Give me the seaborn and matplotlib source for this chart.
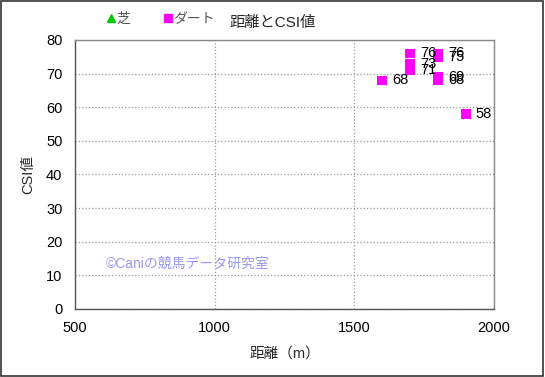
"""距離とCSI値 scatter (dart only)."""

import matplotlib

matplotlib.use("Agg")
import matplotlib.pyplot as plt
from matplotlib.lines import Line2D
from matplotlib.patches import Rectangle
import pandas as pd
import seaborn as sns

# data
dirt_distance = [1600, 1700, 1700, 1700, 1800, 1800, 1800, 1800, 1900]
dirt_csi = [68, 76, 73, 71, 76, 75, 69, 68, 58]
turf_distance = []
turf_csi = []
x_ticks = [500, 1000, 1500, 2000]
y_ticks = [0, 10, 20, 30, 40, 50, 60, 70, 80]

df = pd.DataFrame(
    {
        "distance": dirt_distance + turf_distance,
        "csi": dirt_csi + turf_csi,
        "surface": ["ダート"] * len(dirt_distance) + ["芝"] * len(turf_distance),
    }
)

sns.set_style("white")
plt.rcParams["font.family"] = ["Liberation Sans", "Noto Sans CJK JP", "DejaVu Sans"]

fig = plt.figure(figsize=(5.45, 3.77), dpi=100)
ax = fig.add_axes([75 / 545, 1 - 309 / 377, 419 / 545, 269 / 377])

sns.scatterplot(
    data=df,
    x="distance",
    y="csi",
    hue="surface",
    style="surface",
    palette={"芝": "#00cc00", "ダート": "#ff00ff"},
    markers={"芝": "^", "ダート": "s"},
    s=48,
    linewidth=0,
    legend=False,
    ax=ax,
    zorder=3,
)

for d, v in zip(df["distance"], df["csi"]):
    ax.annotate(str(v), (d, v), xytext=(7, 0), textcoords="offset points",
                va="center", ha="left", fontsize=10.5, color="black")

ax.set_xlim(500, 2000)
ax.set_ylim(0, 80)
ax.set_xticks(x_ticks)
ax.set_yticks(y_ticks)
ax.tick_params(length=0, labelsize=10.5, colors="black", pad=9)
ax.grid(True, color="#9a9a9a", linestyle=":", linewidth=0.9)
for side in ["top", "right"]:
    ax.spines[side].set_color("#888888")
for side in ["left", "bottom"]:
    ax.spines[side].set_color("#555555")
for sp in ax.spines.values():
    sp.set_linewidth(1.0)

ax.set_xlabel("距離（m）", fontsize=10.5, labelpad=8)
ax.set_ylabel("CSI値", fontsize=10.5, labelpad=8)

ax.text(610, 13.5, "©Caniの競馬データ研究室", fontsize=10, color="#9999ee",
        va="center", ha="left")

fig.text(0.5, 1 - 23 / 377, "距離とCSI値", ha="center", va="center", fontsize=11)

handles = [
    Line2D([], [], marker="^", color="#00cc00", linestyle="none", markersize=6),
    Line2D([], [], marker="s", color="#ff00ff", linestyle="none", markersize=6),
]
fig.legend(handles, ["芝", "ダート"], loc="center left",
           bbox_to_anchor=(100 / 545, 1 - 19 / 377), ncol=2, frameon=False,
           fontsize=10, labelcolor="#555555", handlelength=0.6,
           handletextpad=0.1, columnspacing=2.4, borderpad=0)

fig.patches.append(Rectangle((0.002, 0.003), 0.995, 0.994, transform=fig.transFigure,
                             fill=False, edgecolor="#333333", linewidth=1.2))

fig.savefig("out.png", dpi=100)
plt.close(fig)
